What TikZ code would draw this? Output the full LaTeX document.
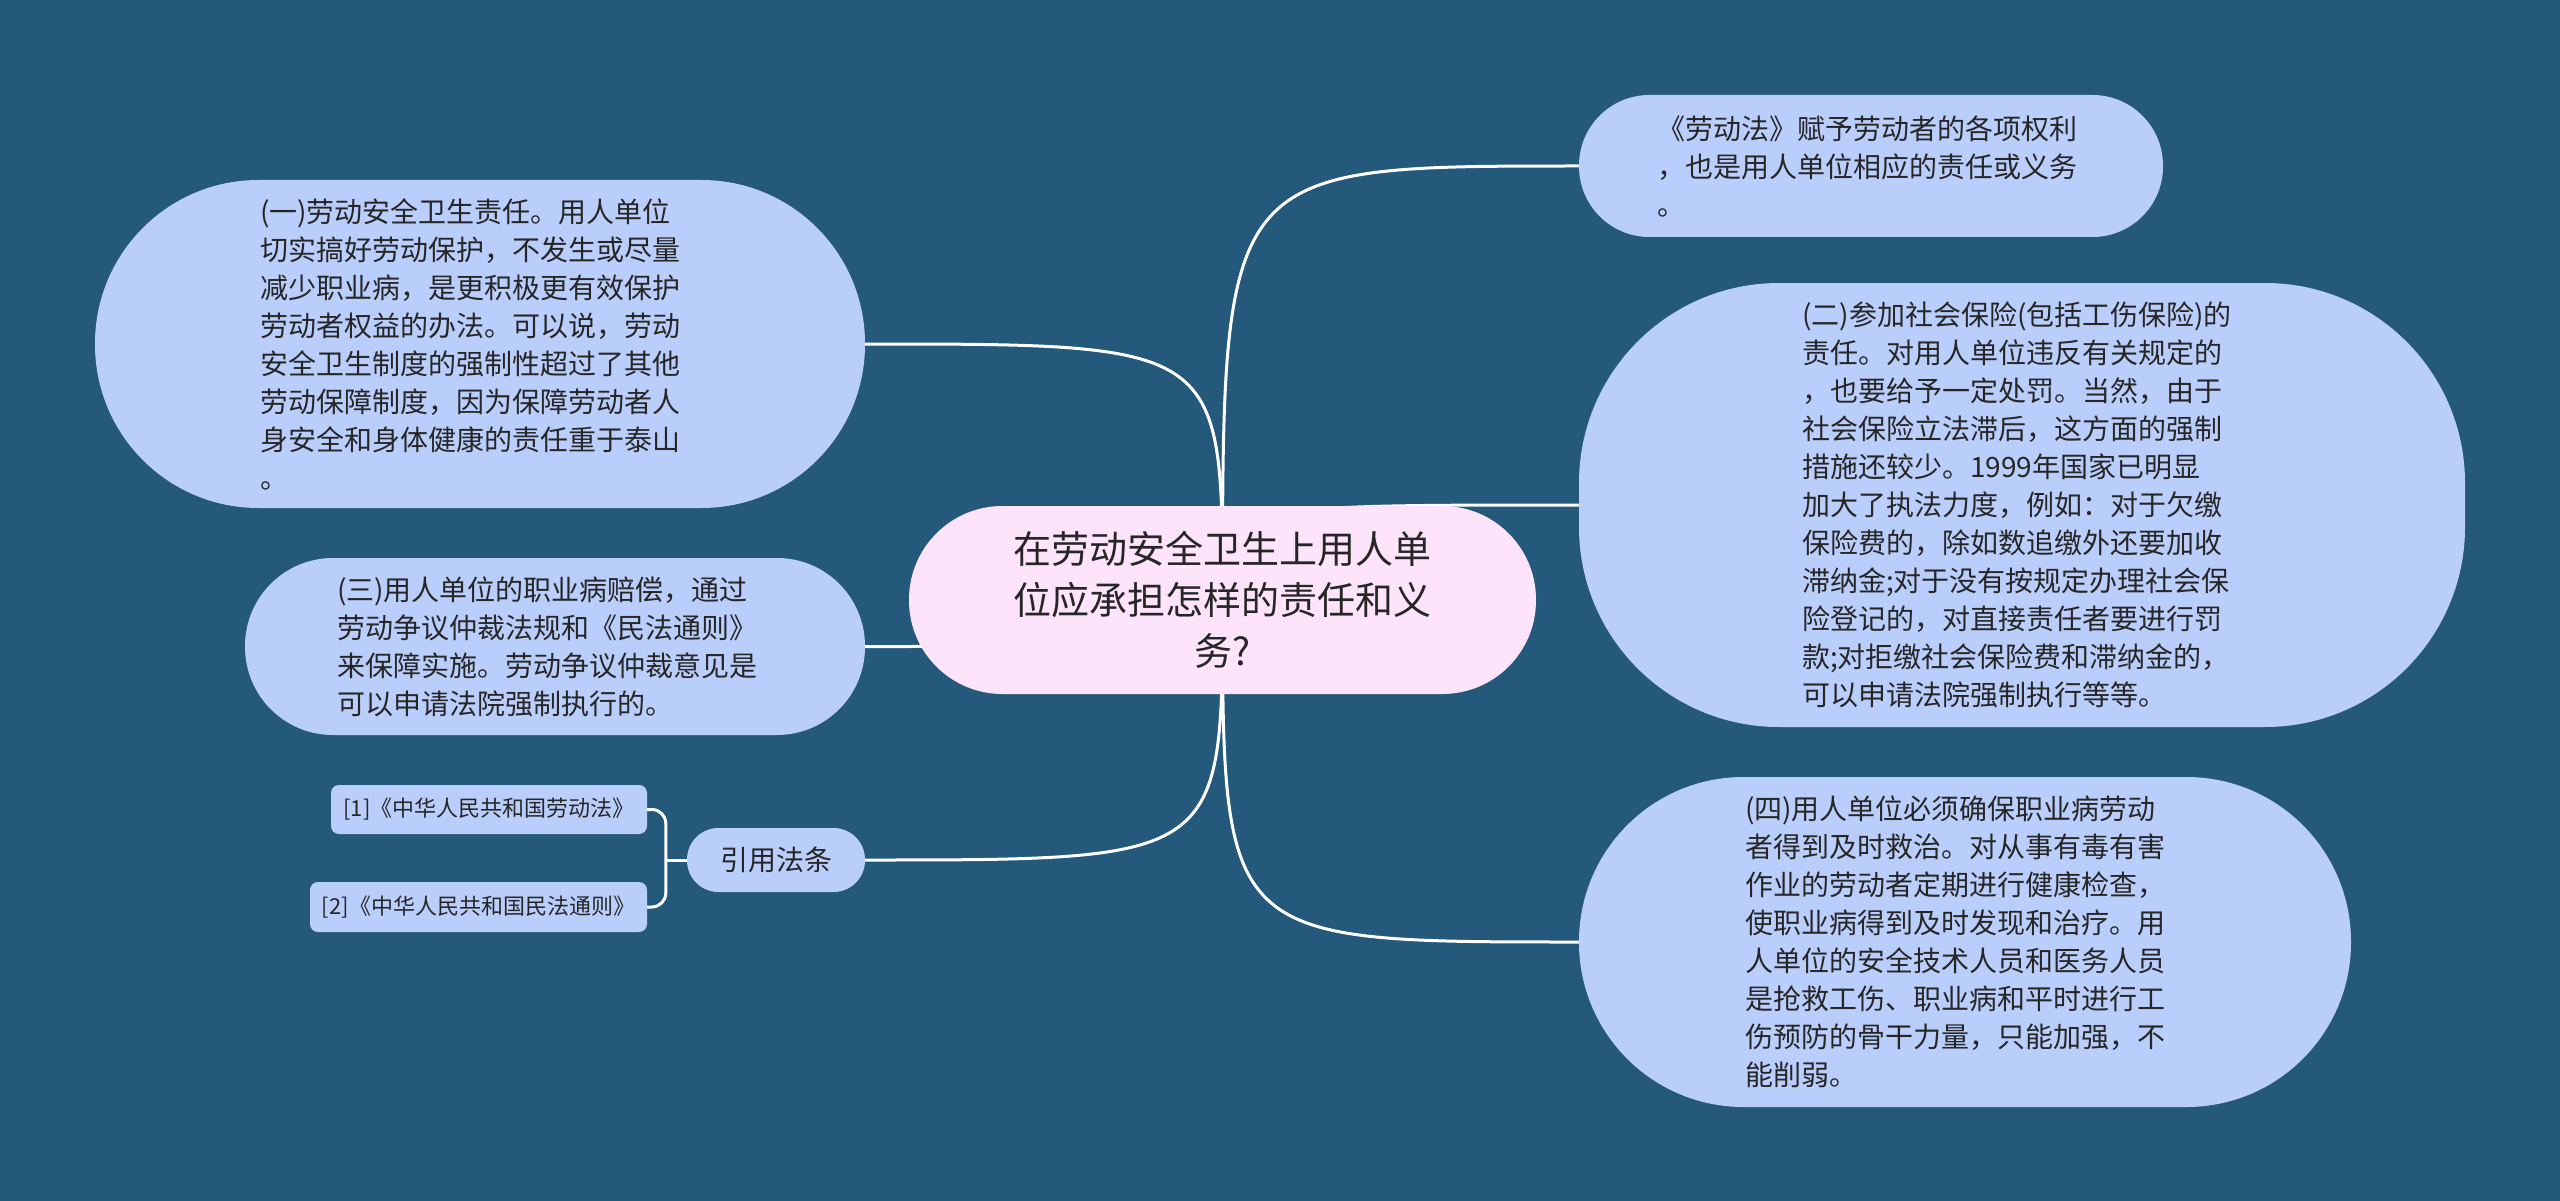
\documentclass[tikz,border=0pt]{standalone}
\usepackage{fontspec}
\setmainfont{Noto Sans CJK SC}
\usetikzlibrary{calc}
\definecolor{bgc}{RGB}{36,89,124}
\definecolor{nodeblue}{RGB}{186,206,252}
\definecolor{nodepink}{RGB}{253,228,250}
\definecolor{txt}{RGB}{38,38,38}
\pgfdeclarelayer{bglayer}
\pgfsetlayers{bglayer,main}
\tikzset{
  topicbox/.style={fill=nodeblue, inner sep=0pt},
  topictext/.style={text=txt, inner sep=0pt, align=left, font=\fontsize{28}{38}\selectfont},
  topic/.style={fill=nodeblue, text=txt, inner sep=0pt, align=center, font=\fontsize{28}{38}\selectfont},
  roottopic/.style={fill=nodepink, text=txt, inner sep=0pt, align=center, font=\fontsize{38}{51}\selectfont},
  smalltopic/.style={fill=nodeblue, text=txt, inner sep=0pt, align=center, font=\fontsize{22}{28}\selectfont, rounded corners=8pt},
  link/.style={draw=white, line width=3pt},
}
\begin{document}
\begin{tikzpicture}[x=1pt,y=-1pt]
\useasboundingbox (0,0) rectangle (2560,1201);
% central
\node[roottopic, minimum width=627pt, minimum height=188pt, rounded corners=93.5pt] (c) at (1222.5,600)
  {在劳动安全卫生上用人单\\位应承担怎样的责任和义\\务?};
% left
\node[topicbox, minimum width=770pt, minimum height=328pt, rounded corners=163.5pt] (n1) at (480,344) {};
\node[topictext] (n1t) at ([xshift=-10pt]n1.center)
  {(一)劳动安全卫生责任。用人单位\\切实搞好劳动保护，不发生或尽量\\减少职业病，是更积极更有效保护\\劳动者权益的办法。可以说，劳动\\安全卫生制度的强制性超过了其他\\劳动保障制度，因为保障劳动者人\\身安全和身体健康的责任重于泰山\\。};
\node[topicbox, minimum width=620pt, minimum height=177pt, rounded corners=88pt] (n3) at (555,646.5) {};
\node[topictext] (n3t) at ([xshift=-8pt]n3.center)
  {(三)用人单位的职业病赔偿，通过\\劳动争议仲裁法规和《民法通则》\\来保障实施。劳动争议仲裁意见是\\可以申请法院强制执行的。};
\node[topic, minimum width=178pt, minimum height=64pt, rounded corners=31.5pt] (yy) at (776,860) {引用法条};
\node[smalltopic, minimum width=316pt, minimum height=49pt] (r1) at (489,809.5) {[1]《中华人民共和国劳动法》};
\node[smalltopic, minimum width=337pt, minimum height=50pt] (r2) at (478.5,907) {[2]《中华人民共和国民法通则》};
% right
\node[topicbox, minimum width=584pt, minimum height=142pt, rounded corners=70.5pt] (q1) at (1871,166) {};
\node[topictext] (q1t) at ([xshift=-4pt]q1.center)
  {《劳动法》赋予劳动者的各项权利\\，也是用人单位相应的责任或义务\\。};
\node[topicbox, minimum width=886pt, minimum height=444pt, rounded corners=200pt] (q2) at (2022,505) {};
\node[topictext] (q2t) at ([xshift=-5pt]q2.center)
  {(二)参加社会保险(包括工伤保险)的\\责任。对用人单位违反有关规定的\\，也要给予一定处罚。当然，由于\\社会保险立法滞后，这方面的强制\\措施还较少。1999年国家已明显\\加大了执法力度，例如：对于欠缴\\保险费的，除如数追缴外还要加收\\滞纳金;对于没有按规定办理社会保\\险登记的，对直接责任者要进行罚\\款;对拒缴社会保险费和滞纳金的，\\可以申请法院强制执行等等。};
\node[topicbox, minimum width=772pt, minimum height=330pt, rounded corners=164.5pt] (q4) at (1965,942) {};
\node[topictext] (q4t) at ([xshift=-10pt]q4.center)
  {(四)用人单位必须确保职业病劳动\\者得到及时救治。对从事有毒有害\\作业的劳动者定期进行健康检查，\\使职业病得到及时发现和治疗。用\\人单位的安全技术人员和医务人员\\是抢救工伤、职业病和平时进行工\\伤预防的骨干力量，只能加强，不\\能削弱。};
\coordinate (j) at ($(yy.west)+(-21,0)$);
\begin{pgfonlayer}{bglayer}
\fill[bgc] (0,0) rectangle (2560,1201);
\draw[link] (c.center) .. controls (c.center |- n1.east) .. (n1.east);
\draw[link] (c.center) .. controls (c.center |- n3.east) .. (n3.east);
\draw[link] (c.center) .. controls (c.center |- yy.east) .. (yy.east);
\draw[link] (c.center) .. controls (c.center |- q1.west) .. (q1.west);
\draw[link] (c.center) .. controls (c.center |- q2.west) .. (q2.west);
\draw[link] (c.center) .. controls (c.center |- q4.west) .. (q4.west);
\draw[link] (yy.west) -- (j);
\draw[link, rounded corners=14pt] (r1.east) -| (j) |- (r2.east);
\end{pgfonlayer}
\end{tikzpicture}
\end{document}
